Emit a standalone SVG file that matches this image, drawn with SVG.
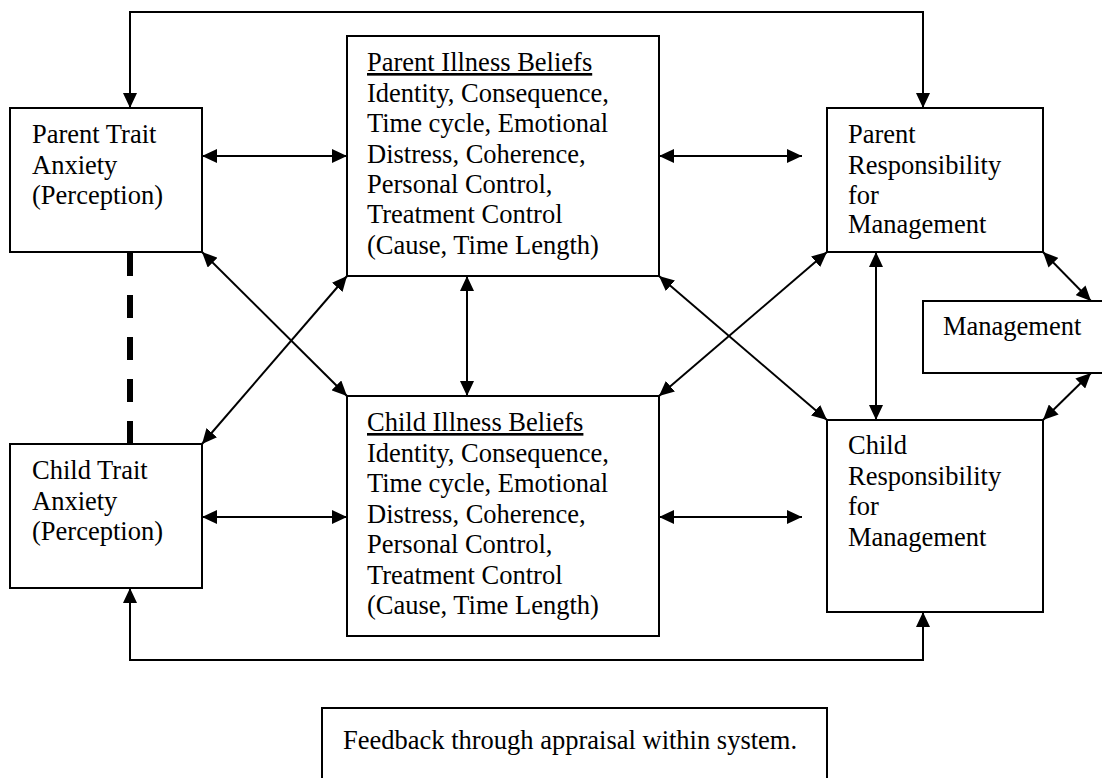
<svg xmlns="http://www.w3.org/2000/svg" width="1102" height="778" viewBox="0 0 1102 778">
<style>
.box{fill:#fff;stroke:#000;stroke-width:2}
.t{font-family:"Liberation Serif","Times New Roman",serif;font-size:26.5px;fill:#000}
.c{fill:none;stroke:#000;stroke-width:2}
.d{marker-start:url(#ah);marker-end:url(#ah)}
.e{marker-end:url(#ah)}
</style>
<defs>
<marker id="ah" markerUnits="userSpaceOnUse" markerWidth="16" markerHeight="14" refX="15" refY="7" orient="auto-start-reverse" viewBox="0 0 16 14">
<path d="M0,0 L15,7 L0,14 z" fill="#000"/>
</marker>
</defs>
<rect width="1102" height="778" fill="#fff"/>
<g id="connectors">
<path class="c d" d="M130,108 V12 H923 V108"/>
<path class="c d" d="M130,588 V660 H923 V612"/>
<line class="c d" x1="202" y1="156" x2="347" y2="156"/>
<line class="c d" x1="659" y1="156" x2="802" y2="156"/>
<line class="c d" x1="202" y1="517" x2="347" y2="517"/>
<line class="c d" x1="659" y1="517" x2="802" y2="517"/>
<line class="c d" x1="467" y1="276" x2="467" y2="396"/>
<line class="c d" x1="876" y1="252" x2="876" y2="420"/>
<line class="c d" x1="202" y1="252" x2="347" y2="396"/>
<line class="c d" x1="202" y1="444" x2="347" y2="276"/>
<line class="c d" x1="659" y1="276" x2="827" y2="420"/>
<line class="c d" x1="659" y1="396" x2="827" y2="252"/>
<line class="c d" x1="1043" y1="252" x2="1091" y2="301"/>
<line class="c d" x1="1043" y1="420" x2="1091" y2="373"/>
<line x1="130" y1="253" x2="130" y2="444" stroke="#000" stroke-width="6" stroke-dasharray="23 19"/>
</g>
<g id="parent-trait">
<rect class="box" x="10" y="108" width="192" height="144"/>
<text class="t"><tspan x="32" y="143">Parent Trait</tspan><tspan x="32" y="174">Anxiety</tspan><tspan x="32" y="204">(Perception)</tspan></text>
</g>
<g id="child-trait">
<rect class="box" x="10" y="444" width="192" height="144"/>
<text class="t"><tspan x="32" y="479">Child Trait</tspan><tspan x="32" y="510">Anxiety</tspan><tspan x="32" y="540">(Perception)</tspan></text>
</g>
<g id="parent-illness">
<rect class="box" x="347" y="36" width="312" height="240"/>
<text class="t"><tspan x="367" y="71" text-decoration="underline">Parent Illness Beliefs</tspan><tspan x="367" y="102">Identity, Consequence,</tspan><tspan x="367" y="132">Time cycle, Emotional</tspan><tspan x="367" y="163">Distress, Coherence,</tspan><tspan x="367" y="193">Personal Control,</tspan><tspan x="367" y="223">Treatment Control</tspan><tspan x="367" y="254">(Cause, Time Length)</tspan></text>
</g>
<g id="child-illness">
<rect class="box" x="347" y="396" width="312" height="240"/>
<text class="t"><tspan x="367" y="431" text-decoration="underline">Child Illness Beliefs</tspan><tspan x="367" y="462">Identity, Consequence,</tspan><tspan x="367" y="492">Time cycle, Emotional</tspan><tspan x="367" y="523">Distress, Coherence,</tspan><tspan x="367" y="553">Personal Control,</tspan><tspan x="367" y="584">Treatment Control</tspan><tspan x="367" y="614">(Cause, Time Length)</tspan></text>
</g>
<g id="parent-resp">
<rect class="box" x="827" y="108" width="216" height="144"/>
<text class="t"><tspan x="848" y="143">Parent</tspan><tspan x="848" y="174">Responsibility</tspan><tspan x="848" y="204">for</tspan><tspan x="848" y="233">Management</tspan></text>
</g>
<g id="child-resp">
<rect class="box" x="827" y="420" width="216" height="192"/>
<text class="t"><tspan x="848" y="454">Child</tspan><tspan x="848" y="485">Responsibility</tspan><tspan x="848" y="515">for</tspan><tspan x="848" y="546">Management</tspan></text>
</g>
<g id="management">
<rect class="box" x="923" y="301" width="200" height="72"/>
<text class="t" x="943" y="335">Management</text>
</g>
<g id="feedback">
<rect class="box" x="322" y="708" width="505" height="100"/>
<text class="t" x="343" y="749">Feedback through appraisal within system.</text>
</g>
</svg>
